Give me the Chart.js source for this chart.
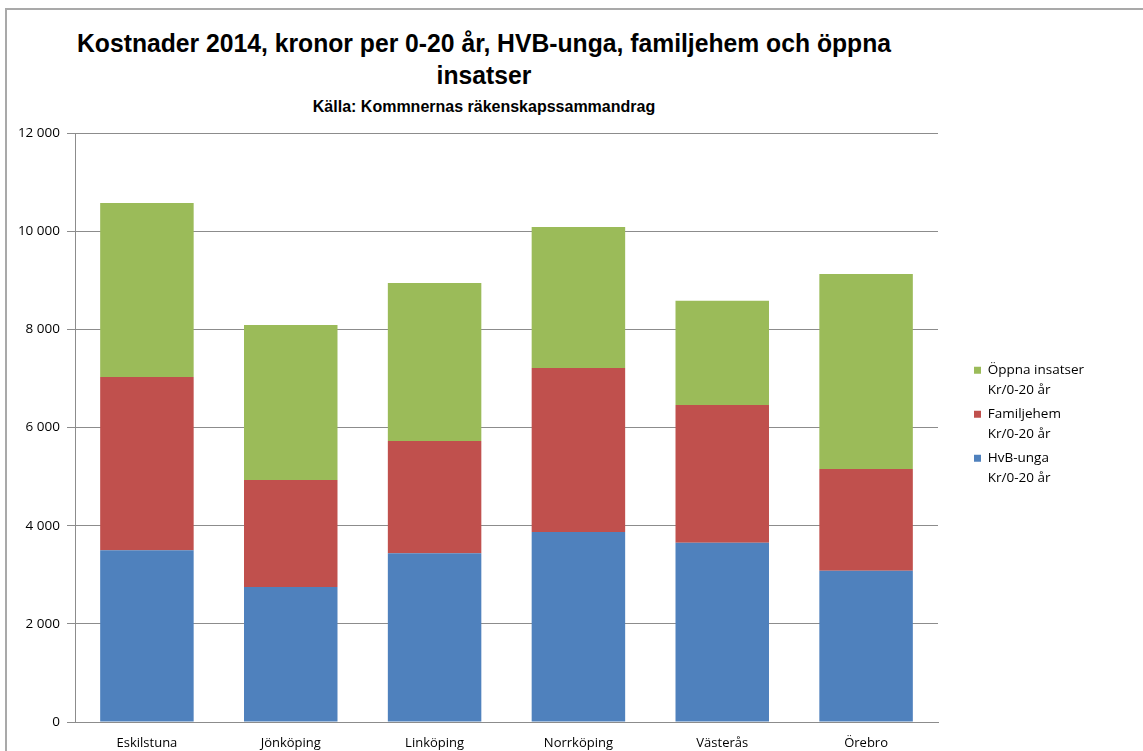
<!DOCTYPE html>
<html>
<head>
<meta charset="utf-8">
<script src="https://cdn.jsdelivr.net/npm/chart.js@4.4.1/dist/chart.umd.min.js"></script>
<style>
html, body { margin: 0; padding: 0; background: #fff; }
#wrap { position: relative; width: 1143px; height: 751px; overflow: hidden; }
#frame { position: absolute; left: 5px; top: 8px; width: 1300px; height: 900px;
  border-top: 2px solid #a9a9a9; border-left: 2px solid #a9a9a9; }
.ttl { position: absolute; left: 0; width: 968px; text-align: center; color: #000;
  font-family: 'Liberation Sans Narrow', 'Arial Narrow', 'Liberation Sans', sans-serif; font-weight: bold; }
#title { top: 27px; font-size: 26px; line-height: 32px; transform: scaleX(0.95); transform-origin: 484px 0; }
#sub { top: 97px; font-size: 16px; line-height: 20px; }
canvas { position: absolute; left: 0; top: 0; }
</style>
</head>
<body>
<div id="wrap">
  <div id="frame"></div>
  <div id="title" class="ttl">Kostnader 2014, kronor per 0-20 år, HVB-unga, familjehem och öppna<br>insatser</div>
  <div id="sub" class="ttl">Källa: Kommnernas räkenskapssammandrag</div>
  <canvas id="c" width="1143" height="751"></canvas>
</div>
<script>
const categories = ['Eskilstuna', 'Jönköping', 'Linköping', 'Norrköping', 'Västerås', 'Örebro'];
const hvbUnga = [3500, 2750, 3440, 3870, 3650, 3080];
const familjehem = [3530, 2180, 2285, 3340, 2810, 2075];
const oppnaInsatser = [3545, 3160, 3220, 2875, 2120, 3970];
const seriesNames = ['HvB-unga', 'Familjehem', 'Öppna insatser'];
const unitLabel = 'Kr/0-20 år';
const seriesColors = ['#4F81BD', '#C0504D', '#9BBB59'];
const yMin = 0, yMax = 12000, yStep = 2000;

const FONT = "'Open Sans', 'Liberation Sans', sans-serif";
const GRID = '#8c8c8c';

function fmt(v) {
  return String(v).replace(/\B(?=(\d{3})+(?!\d))/g, ' ');
}

const legendWidthPlugin = {
  id: 'legendWidth',
  afterInit(chart) {
    const lg = chart.legend;
    if (lg && !lg._wrapped) {
      const orig = lg.fit.bind(lg);
      lg.fit = function () { orig(); this.width = 173; };
      lg._wrapped = true;
    }
  }
};

const seriesData = [hvbUnga, familjehem, oppnaInsatser];

new Chart(document.getElementById('c'), {
  type: 'bar',
  data: {
    labels: categories,
    datasets: seriesNames.map((n, i) => ({
      label: n + ' ' + unitLabel,
      data: seriesData[i],
      backgroundColor: seriesColors[i],
      borderWidth: 0,
      barPercentage: 0.65,
      categoryPercentage: 1.0
    }))
  },
  options: {
    responsive: false,
    animation: false,
    layout: { padding: { top: 133, left: 0, right: 0, bottom: 0 } },
    plugins: {
      title: { display: false },
      tooltip: { enabled: false },
      legend: {
        position: 'right',
        fullSize: false,
        reverse: true,
        labels: {
          boxWidth: 7,
          boxHeight: 7,
          padding: 4,
          color: '#000',
          font: { family: FONT, size: 13.5, lineHeight: '20px' },
          generateLabels(chart) {
            const items = Chart.defaults.plugins.legend.labels.generateLabels(chart);
            items.forEach(it => {
              it.text = [seriesNames[it.datasetIndex], unitLabel];
              it.lineWidth = 0;
            });
            return items;
          }
        }
      }
    },
    scales: {
      x: {
        stacked: true,
        grid: { display: false, drawTicks: false },
        border: { display: true, color: GRID, width: 1 },
        ticks: { color: '#000', font: { family: FONT, size: 13 }, padding: 13, maxRotation: 0 },
        afterFit(s) { s.height = 29; }
      },
      y: {
        stacked: true,
        min: yMin,
        max: yMax,
        ticks: { stepSize: yStep, color: '#000', font: { family: FONT, size: 13.5 }, padding: 7,
          callback: v => fmt(v) },
        grid: { color: GRID, lineWidth: 1, drawTicks: true, tickLength: 8, tickColor: GRID },
        border: { display: true, color: GRID, width: 1 },
        afterFit(s) { s.width = 75; }
      },
      gap: {
        type: 'linear',
        position: 'right',
        display: true,
        grid: { display: false, drawTicks: false },
        border: { display: false },
        ticks: { display: false },
        afterFit(s) { s.width = 32; }
      }
    }
  },
  plugins: [legendWidthPlugin]
});
</script>
</body>
</html>
